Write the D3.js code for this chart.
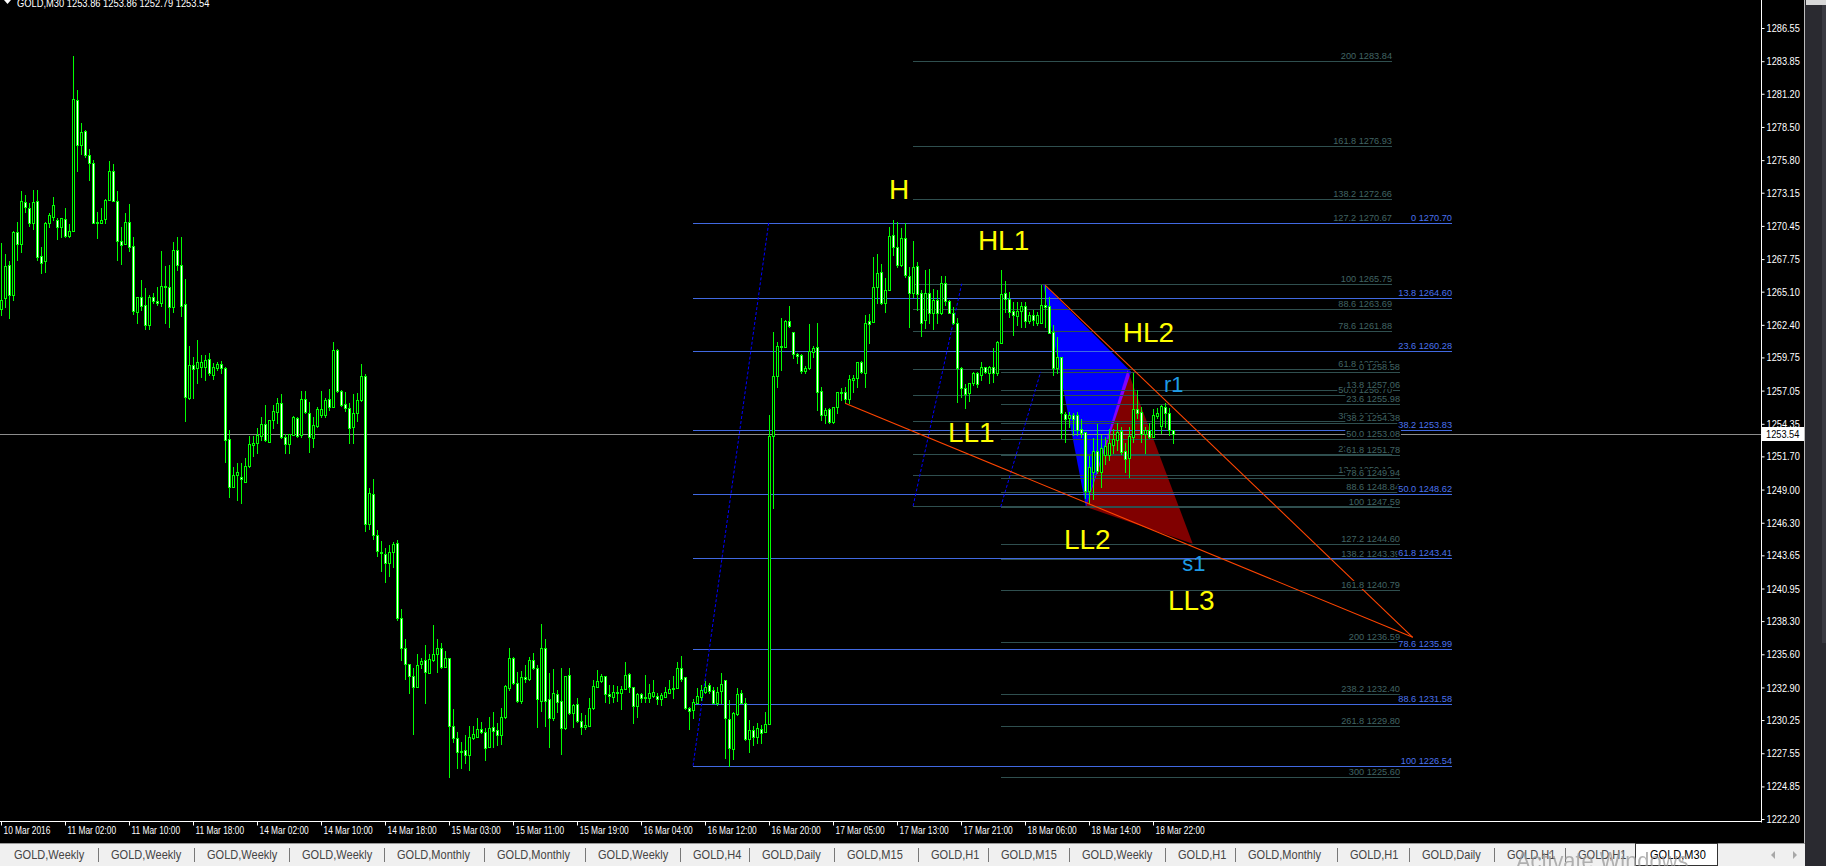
<!DOCTYPE html>
<html><head><meta charset="utf-8">
<script src="https://cdn.jsdelivr.net/npm/d3@7"></script>
<style>
html,body{margin:0;padding:0;background:#000;overflow:hidden;}
svg{display:block;}
</style></head><body>
<svg id="c" width="1826" height="866"></svg>
<script>
// ---------------- DATA ----------------
const barOpen = [
1263.66,1264.56,1267.24,1264.80,1269.93,1268.95,1272.37,1271.88,1270.71,1272.45,
1268.00,1267.57,1270.66,1271.20,1270.93,1270.39,1270.99,1269.66,1270.06,1280.67,
1277.06,1278.17,1276.25,1275.54,1270.71,1270.71,1270.99,1272.53,1274.89,1272.45,
1269.19,1268.98,1270.74,1268.79,1263.47,1264.64,1263.99,1262.39,1264.69,1264.31,
1264.18,1265.59,1265.51,1263.88,1268.46,1267.24,1264.07,1256.48,1259.13,1258.86,
1259.00,1259.00,1259.60,1258.35,1258.92,1259.21,1258.86,1253.08,1249.23,1250.16,
1249.99,1249.64,1250.92,1252.65,1252.76,1253.39,1254.31,1252.90,1254.66,1255.34,
1256.02,1253.25,1252.68,1253.44,1254.82,1253.47,1256.34,1255.20,1253.17,1254.20,
1255.07,1255.07,1256.34,1255.74,1260.35,1257.02,1255.96,1255.66,1254.06,1255.26,
1256.29,1258.24,1246.20,1248.61,1245.30,1243.95,1243.73,1243.00,1243.89,1244.63,
1238.52,1236.08,1234.78,1233.86,1232.96,1234.78,1235.14,1234.05,1235.14,1235.60,
1236.08,1234.59,1235.27,1229.79,1228.76,1227.68,1227.81,1227.38,1228.76,1228.90,
1229.49,1229.25,1228.08,1229.66,1229.44,1229.03,1230.47,1232.88,1235.27,1233.24,
1231.80,1233.72,1233.59,1235.14,1234.46,1231.80,1236.08,1231.93,1230.39,1232.37,
1231.80,1229.58,1233.89,1230.80,1231.53,1230.17,1229.66,1229.79,1231.20,1232.96,
1233.45,1233.83,1232.37,1232.15,1232.48,1232.48,1232.75,1233.97,1232.91,1231.42,
1232.34,1232.07,1232.07,1232.23,1232.23,1231.93,1232.15,1232.48,1232.77,1232.83,
1234.46,1233.72,1231.26,1231.07,1231.66,1232.15,1232.56,1233.10,1232.69,1231.66,
1232.61,1233.51,1230.34,1227.89,1230.71,1232.42,1231.61,1228.74,1229.44,1228.90,
1229.49,1229.31,1229.90,1253.36,1258.24,1260.68,1260.62,1262.71,1261.84,1260.03,
1259.92,1258.67,1258.86,1260.22,1260.57,1257.05,1255.07,1255.53,1254.52,1255.69,
1256.91,1256.91,1256.37,1257.91,1258.05,1259.35,1258.51,1262.71,1262.66,1265.51,
1266.67,1264.20,1265.23,1269.71,1268.76,1267.27,1269.44,1266.37,1264.96,1267.19,
1265.02,1262.79,1265.02,1263.39,1264.42,1263.39,1265.78,1264.37,1263.39,1262.58,
1258.86,1257.29,1256.88,1257.64,1258.51,1258.32,1258.94,1258.51,1259.00,1258.45,
1260.95,1264.96,1264.50,1263.53,1263.15,1263.53,1263.93,1262.71,1263.20,1262.58,
1262.58,1264.01,1263.96,1261.85,1258.92,1259.81,1255.15,1254.80,1255.07,1255.07,
1253.90,1253.66,1248.91,1250.46,1252.14,1250.46,1251.81,1251.81,1252.63,1253.04,
1253.77,1252.14,1251.54,1253.31,1255.53,1255.28,1253.52,1253.85,1253.31,1254.99,
1254.17,1255.74,1255.26,1253.86];
const barHigh = [
1269.03,1268.14,1267.62,1270.04,1270.80,1273.29,1272.96,1272.29,1273.37,1273.37,
1268.76,1270.80,1271.53,1272.77,1271.12,1271.07,1271.91,1270.60,1284.27,1281.51,
1278.79,1278.28,1276.71,1275.81,1271.61,1271.88,1272.61,1275.73,1275.49,1273.29,
1270.39,1271.47,1272.21,1269.57,1264.64,1266.05,1265.37,1264.83,1265.02,1265.51,
1268.41,1267.19,1267.24,1269.14,1269.52,1269.52,1266.13,1260.68,1259.81,1261.17,
1259.95,1259.95,1260.14,1259.32,1259.41,1259.49,1258.94,1253.85,1250.81,1251.13,
1251.13,1251.60,1253.36,1253.36,1253.98,1254.88,1255.88,1254.66,1255.88,1256.42,
1256.77,1253.49,1253.49,1255.01,1254.93,1257.05,1257.05,1256.15,1254.93,1255.74,
1257.02,1256.42,1257.18,1261.00,1260.41,1257.10,1256.91,1256.02,1256.77,1256.83,
1259.21,1258.40,1249.10,1249.90,1245.70,1244.84,1244.22,1244.49,1244.76,1244.90,
1239.28,1236.84,1234.78,1234.51,1235.60,1235.32,1236.36,1235.60,1237.98,1236.84,
1236.55,1235.87,1235.32,1231.15,1229.31,1228.49,1229.03,1229.77,1229.77,1230.39,
1230.12,1229.58,1230.47,1230.93,1230.04,1231.26,1233.10,1236.08,1235.41,1234.19,
1234.27,1234.73,1235.41,1235.68,1234.73,1238.06,1236.82,1234.05,1234.37,1232.69,
1234.46,1233.83,1234.46,1231.55,1232.02,1230.85,1230.66,1232.02,1233.51,1234.32,
1234.00,1233.83,1233.10,1233.10,1233.02,1233.02,1235.00,1234.05,1232.96,1232.48,
1232.48,1233.91,1233.18,1233.51,1232.42,1232.48,1232.91,1233.51,1233.83,1235.00,
1235.46,1233.78,1231.34,1231.93,1232.83,1233.10,1233.43,1233.24,1232.96,1232.96,
1234.05,1233.51,1231.88,1230.93,1232.83,1232.69,1232.02,1230.25,1229.77,1229.98,
1229.85,1230.93,1255.07,1261.84,1261.03,1262.93,1262.79,1263.93,1261.84,1260.14,
1260.00,1259.08,1262.47,1260.68,1262.52,1257.37,1255.61,1255.61,1255.74,1256.96,
1257.23,1257.37,1258.32,1258.32,1259.40,1259.48,1263.20,1263.28,1267.95,1268.16,
1267.35,1266.18,1270.33,1270.93,1270.79,1270.25,1270.66,1267.08,1269.22,1267.54,
1265.23,1266.86,1266.92,1265.29,1265.23,1266.37,1266.37,1264.42,1263.82,1262.93,
1259.00,1257.56,1257.70,1258.59,1258.59,1259.40,1259.00,1259.05,1260.49,1261.09,
1266.86,1266.00,1265.10,1264.29,1264.29,1264.29,1264.29,1263.47,1263.61,1263.47,
1265.64,1265.64,1264.69,1262.39,1261.39,1259.81,1255.34,1255.34,1255.20,1255.34,
1254.72,1253.71,1251.73,1253.17,1254.34,1253.44,1253.31,1253.90,1253.90,1254.39,
1254.12,1252.76,1254.12,1258.51,1257.10,1255.74,1254.12,1254.39,1255.53,1255.61,
1255.88,1256.01,1255.61,1253.86];
const barLow = [
1263.20,1263.88,1262.93,1264.42,1267.68,1268.35,1271.61,1270.47,1270.20,1267.68,
1266.59,1266.73,1270.39,1270.93,1269.36,1269.52,1269.57,1269.57,1270.06,1274.94,
1276.30,1276.08,1274.18,1270.71,1269.49,1270.71,1270.66,1272.53,1272.50,1267.68,
1267.32,1268.98,1268.44,1263.26,1262.58,1263.61,1262.09,1262.09,1264.20,1263.99,
1263.96,1262.58,1262.25,1263.47,1266.86,1263.12,1254.61,1256.34,1256.42,1257.64,
1258.13,1257.91,1258.32,1258.02,1258.73,1258.46,1251.27,1248.42,1249.23,1248.15,
1247.93,1249.64,1250.86,1251.76,1251.95,1253.03,1252.98,1252.90,1254.04,1254.39,
1253.22,1252.00,1251.95,1253.44,1253.25,1253.25,1255.20,1252.08,1252.49,1254.12,
1254.93,1254.93,1255.47,1255.74,1256.96,1255.80,1255.42,1252.76,1252.76,1254.61,
1256.23,1245.60,1245.80,1245.00,1243.60,1242.37,1241.51,1242.00,1242.73,1238.39,
1235.14,1233.59,1232.48,1229.11,1232.96,1234.46,1231.66,1234.05,1235.05,1234.13,
1234.46,1234.59,1225.59,1228.49,1226.32,1226.32,1226.73,1226.19,1228.68,1228.90,
1229.17,1227.00,1228.08,1228.08,1228.22,1228.30,1230.39,1232.69,1233.18,1231.75,
1231.66,1233.37,1233.51,1234.37,1229.71,1231.01,1229.77,1228.08,1230.25,1230.93,
1227.49,1229.49,1230.74,1229.71,1230.12,1229.11,1229.49,1229.79,1231.12,1232.91,
1233.37,1231.75,1231.66,1231.75,1231.83,1231.15,1232.75,1232.56,1229.98,1230.53,
1231.75,1231.75,1231.75,1232.15,1231.55,1231.47,1232.15,1232.42,1232.02,1232.83,
1233.45,1231.12,1229.49,1230.39,1231.61,1231.88,1232.48,1232.42,1231.61,1231.47,
1231.61,1227.19,1226.54,1227.05,1230.66,1231.61,1228.63,1227.68,1228.22,1228.41,
1228.36,1229.31,1229.90,1247.47,1257.37,1258.73,1260.62,1262.25,1259.68,1259.32,
1258.51,1258.45,1258.78,1259.81,1255.47,1254.66,1254.39,1254.39,1254.39,1255.20,
1256.29,1256.01,1256.01,1256.96,1257.37,1258.45,1257.37,1260.90,1262.66,1264.15,
1264.10,1263.47,1265.23,1268.08,1267.13,1267.19,1266.32,1262.20,1264.69,1263.61,
1261.52,1262.12,1262.58,1262.03,1262.58,1263.28,1264.01,1263.34,1262.47,1256.15,
1256.50,1255.61,1256.23,1257.51,1257.37,1257.91,1258.51,1257.70,1257.78,1258.32,
1260.95,1263.47,1263.07,1261.57,1262.39,1262.25,1262.25,1262.52,1262.39,1262.39,
1262.52,1262.25,1261.71,1258.32,1258.45,1253.17,1252.90,1254.12,1253.44,1253.44,
1253.31,1248.29,1247.88,1248.21,1250.32,1249.24,1251.08,1251.41,1251.95,1252.22,
1251.90,1250.46,1250.05,1252.90,1254.80,1252.90,1252.01,1253.17,1253.31,1254.80,
1253.58,1254.12,1253.44,1252.79];
const barClose = [
1264.42,1267.19,1264.80,1269.95,1268.95,1272.45,1271.96,1270.71,1272.37,1267.95,
1267.46,1270.66,1271.31,1272.12,1270.39,1271.07,1269.66,1270.01,1280.75,1277.06,
1278.06,1276.25,1275.54,1270.71,1270.80,1270.93,1272.53,1274.89,1272.50,1269.19,
1268.92,1270.74,1268.71,1263.55,1264.64,1263.96,1262.39,1264.67,1264.31,1264.18,
1265.59,1265.51,1263.88,1268.46,1267.24,1263.96,1256.56,1259.11,1258.84,1259.38,
1259.35,1259.51,1258.51,1258.94,1259.21,1258.86,1253.03,1249.23,1250.18,1250.43,
1249.83,1250.92,1252.68,1252.76,1253.41,1254.31,1253.03,1254.66,1255.39,1256.02,
1253.30,1252.68,1253.49,1254.88,1253.36,1256.34,1255.34,1253.25,1254.23,1255.53,
1255.58,1256.29,1255.74,1260.35,1257.05,1255.88,1255.66,1253.98,1255.20,1256.29,
1258.24,1246.20,1248.69,1245.30,1244.00,1243.81,1243.00,1243.89,1244.57,1238.52,
1236.08,1234.78,1233.86,1232.96,1234.73,1235.05,1234.13,1235.19,1235.60,1236.14,
1234.59,1235.27,1229.79,1228.76,1227.68,1227.76,1227.38,1228.84,1229.09,1229.49,
1229.25,1228.00,1229.58,1229.39,1229.03,1230.47,1233.02,1235.27,1233.24,1231.80,
1233.72,1233.59,1235.14,1234.46,1231.96,1236.08,1231.80,1230.39,1232.42,1231.75,
1229.58,1233.83,1230.80,1231.47,1230.17,1229.71,1229.85,1231.20,1233.02,1233.43,
1233.83,1232.34,1232.23,1232.56,1232.56,1232.77,1233.91,1232.91,1231.42,1232.37,
1232.07,1232.15,1232.42,1232.50,1231.93,1232.29,1232.50,1232.77,1232.83,1234.46,
1233.59,1231.26,1230.99,1231.75,1232.21,1232.69,1232.96,1232.61,1231.66,1232.56,
1233.16,1230.39,1227.95,1230.80,1232.37,1231.66,1228.68,1229.44,1228.84,1229.58,
1229.22,1229.90,1253.36,1258.24,1260.68,1260.62,1262.71,1262.33,1260.00,1259.87,
1258.64,1258.86,1260.27,1260.49,1256.96,1255.07,1255.47,1254.52,1255.69,1256.91,
1256.83,1256.37,1257.97,1258.05,1259.35,1258.59,1262.52,1262.44,1265.51,1266.59,
1264.20,1265.23,1269.63,1268.76,1267.27,1269.44,1266.45,1264.96,1267.13,1264.91,
1262.58,1264.96,1263.39,1264.42,1263.39,1265.78,1264.37,1263.39,1262.52,1258.86,
1257.23,1256.77,1257.64,1258.45,1257.56,1258.94,1258.59,1259.00,1258.45,1261.03,
1264.91,1264.50,1263.47,1263.20,1263.53,1263.93,1262.71,1263.20,1262.79,1263.20,
1264.01,1263.88,1261.76,1258.92,1259.81,1255.20,1254.72,1255.07,1254.72,1253.85,
1253.63,1248.91,1250.86,1252.14,1250.51,1252.36,1252.55,1252.76,1253.09,1253.71,
1252.09,1251.46,1253.36,1255.53,1255.26,1253.52,1253.85,1253.31,1255.07,1255.26,
1255.80,1255.26,1253.85,1253.54];

const timeLabels = ["10 Mar 2016","11 Mar 02:00","11 Mar 10:00","11 Mar 18:00","14 Mar 02:00","14 Mar 10:00",
  "14 Mar 18:00","15 Mar 03:00","15 Mar 11:00","15 Mar 19:00","16 Mar 04:00","16 Mar 12:00","16 Mar 20:00",
  "17 Mar 05:00","17 Mar 13:00","17 Mar 21:00","18 Mar 06:00","18 Mar 14:00","18 Mar 22:00"];
const timeTickBars = [0,16,32,48,64,80,96,112,128,144,160,176,192,208,224,240,256,272,288];
const priceTicks = [1286.55,1283.85,1281.20,1278.50,1275.80,1273.15,1270.45,1267.75,1265.10,1262.40,1259.75,
  1257.05,1254.35,1251.70,1249.00,1246.30,1243.65,1240.95,1238.30,1235.60,1232.90,1230.25,1227.55,1224.85,1222.20];
const bidPrice = 1253.54;
const titleText = "GOLD,M30  1253.86 1253.86 1252.79 1253.54";

// Fibonacci object A (blue)
const fibALevels = ["0","13.8","23.6","38.2","50.0","61.8","78.6","88.6","100"];
const fibAPrices = [1270.70,1264.60,1260.28,1253.83,1248.62,1243.41,1235.99,1231.58,1226.54];
const fibASpan = [172.9, 362.55];
const fibABase = [[172.9,1226.54],[191.8,1270.70]];
// Fibonacci object B (dark slate gray)
const fibBLevels = ["200","161.8","138.2","127.2","100","88.6","78.6","61.8","50.0","38.2","23.6","13.8","0"];
const fibBPrices = [1283.84,1276.93,1272.66,1270.67,1265.75,1263.69,1261.88,1258.84,1256.70,1254.57,1251.93,1250.16,1247.66];
const fibBSpan = [227.9, 347.55];
const fibBBase = [[227.9,1247.66],[240.05,1265.75]];
// Fibonacci object C (dark slate gray)
const fibCLevels = ["0","13.8","23.6","38.2","50.0","61.8","78.6","88.6","100","127.2","138.2","161.8","200","238.2","261.8","300"];
const fibCPrices = [1258.58,1257.06,1255.98,1254.38,1253.08,1251.78,1249.94,1248.84,1247.59,1244.60,1243.39,1240.79,1236.59,1232.40,1229.80,1225.60];
const fibCSpan = [249.8, 349.5];
const fibCBase = [[249.8,1247.59],[259.8,1258.58]];

// Triangles (bar index, price)
const blueTriangle = [[260.4,1265.75],[282.4,1258.58],[271.1,1247.59]];
const redTriangle  = [[281.5,1258.70],[271.1,1247.59],[297.8,1244.60]];
// Trend lines
const trendLines = [
  [[210.9,1256.02],[352.8,1236.98]],
  [[260.9,1265.64],[352.8,1236.98]]
];
// Text labels (bar index, price, text)
const waveLabels = [
  {t:"H",   b:221.9, p:1272.64, c:"#ffff00", s:28},
  {t:"HL1", b:244.1, p:1268.45, c:"#ffff00", s:28},
  {t:"HL2", b:280.3, p:1261.03, c:"#ffff00", s:28},
  {t:"LL1", b:236.6, p:1252.90, c:"#ffff00", s:28},
  {t:"LL2", b:265.6, p:1244.16, c:"#ffff00", s:28},
  {t:"LL3", b:291.6, p:1239.20, c:"#ffff00", s:28},
  {t:"r1",  b:290.6, p:1256.96, c:"#1e9be6", s:22},
  {t:"s1",  b:295.2, p:1242.37, c:"#1e9be6", s:22}
];
// Bottom tabs
const tabNames = ["GOLD,Weekly","GOLD,Weekly","GOLD,Weekly","GOLD,Weekly","GOLD,Monthly","GOLD,Monthly","GOLD,Weekly",
  "GOLD,H4","GOLD,Daily","GOLD,M15","GOLD,H1","GOLD,M15","GOLD,Weekly","GOLD,H1","GOLD,Monthly","GOLD,H1",
  "GOLD,Daily","GOLD,H1","GOLD,H1","GOLD,M30"];
const tabStarts = [14,111,207,302,397,497,598,693,762,847,931,1001,1082,1178,1248,1350,1422,1507,1578,1650];

// ---------------- DRAWING ----------------
const FONT = '"Liberation Sans", Arial, sans-serif';
const W = 1826, H = 866, PR = 1761, PB = 822;
const svg = d3.select("#c");
const x = d3.scaleLinear().domain([0, 440]).range([1.5, 1761.5]);
const y = d3.scaleLinear().domain([1286.55, 1222.20]).range([28, 819]);
const cy = v => Math.round(y(v)) + 0.5;

function txt(parent, px, py, s, o) {
  const g = parent.append("g").attr("transform", `translate(${px},${py}) scale(${o.sx || 1},1)`);
  let r = null;
  if (o.bg) r = g.append("rect").attr("fill", o.bg);
  const t = g.append("text").text(s).attr("font-family", o.family || FONT).attr("font-size", o.size)
    .attr("fill", o.fill).attr("text-anchor", o.anchor || "start");
  if (r) { const b = t.node().getBBox(); r.attr("x", b.x - 1).attr("y", b.y + 1).attr("width", b.width + 2).attr("height", b.height - 2); }
  return g;
}

svg.append("rect").attr("width", W).attr("height", H).attr("fill", "#000");
svg.append("clipPath").attr("id", "plotclip").append("rect").attr("x", 0).attr("y", 0).attr("width", PR).attr("height", PB);
const plot = svg.append("g").attr("clip-path", "url(#plotclip)");

// triangles (background)
const triG = plot.append("g").style("isolation", "isolate");
const poly = pts => pts.map(p => [x(p[0]), y(p[1])].join(",")).join(" ");
triG.append("polygon").attr("points", poly(blueTriangle)).attr("fill", "#0000ff");
triG.append("polygon").attr("points", poly(redTriangle)).attr("fill", "#800000").style("mix-blend-mode", "lighten");

// fib lines
function fibLines(prices, span, color) {
  const g = plot.append("g").attr("shape-rendering", "crispEdges");
  g.selectAll("line").data(prices).join("line")
    .attr("x1", Math.round(x(span[0]))).attr("x2", Math.round(x(span[1])))
    .attr("y1", d => cy(d)).attr("y2", d => cy(d)).attr("stroke", color).attr("stroke-width", 1);
}
function fibBase(base) {
  plot.append("line").attr("x1", x(base[0][0])).attr("y1", y(base[0][1])).attr("x2", x(base[1][0])).attr("y2", y(base[1][1]))
    .attr("stroke", "#0000ff").attr("stroke-width", 1).attr("stroke-dasharray", "3,2");
}
fibLines(fibBPrices, fibBSpan, "#2f4f4f");
fibLines(fibCPrices, fibCSpan, "#2f4f4f");
fibLines(fibAPrices, fibASpan, "#4169e1");
fibBase(fibABase); fibBase(fibBBase); fibBase(fibCBase);

// bid line
plot.append("line").attr("x1", 0).attr("x2", PR).attr("y1", cy(bidPrice)).attr("y2", cy(bidPrice))
  .attr("stroke", "#8c8c8c").attr("shape-rendering", "crispEdges");

// candles
const cg = plot.append("g").attr("shape-rendering", "crispEdges");
barOpen.forEach((o, i) => {
  const c = barClose[i];
  const hi = Math.max(barHigh[i], o, c), lo = Math.min(barLow[i], o, c);
  const X = Math.floor(x(i));
  const yh = Math.round(y(hi)), yl = Math.round(y(lo));
  cg.append("rect").attr("x", X).attr("y", yh).attr("width", 1).attr("height", yl - yh + 1).attr("fill", "#00ff00");
  const bt = Math.round(y(Math.max(o, c))), bb = Math.round(y(Math.min(o, c)));
  cg.append("rect").attr("x", X - 1).attr("y", bt).attr("width", 3).attr("height", bb - bt + 1).attr("fill", "#00ff00");
  if (bb - bt >= 2) {
    cg.append("rect").attr("x", X).attr("y", bt + 1).attr("width", 1).attr("height", bb - bt - 1)
      .attr("fill", c >= o ? "#000000" : "#ffffff");
  }
});

// trend lines
trendLines.forEach(l => {
  plot.append("line").attr("x1", x(l[0][0])).attr("y1", y(l[0][1])).attr("x2", x(l[1][0])).attr("y2", y(l[1][1]))
    .attr("stroke", "#ff4500").attr("stroke-width", 1.1);
});

// fib labels
function fibLabels(levels, prices, span, color) {
  levels.forEach((lv, i) => {
    txt(plot, Math.round(x(span[1])), cy(prices[i]) - 2.5, lv + " " + prices[i].toFixed(2),
      {size: 9.5, fill: color, anchor: "end", bg: "#000", sx: 0.97});
  });
}
fibLabels(fibBLevels, fibBPrices, fibBSpan, "#416464");
fibLabels(fibCLevels, fibCPrices, fibCSpan, "#416464");
fibLabels(fibALevels, fibAPrices, fibASpan, "#4a72ee");

// wave labels
waveLabels.forEach(d => {
  txt(plot, x(d.b), y(d.p), d.t, {size: d.s, fill: d.c, sx: 1});
});

// borders
svg.append("line").attr("x1", PR + 0.5).attr("x2", PR + 0.5).attr("y1", 0).attr("y2", PB + 0.5).attr("stroke", "#fff");
svg.append("line").attr("x1", 0).attr("x2", PR + 0.5).attr("y1", PB - 0.5).attr("y2", PB - 0.5).attr("stroke", "#fff");

// price axis
const yAxis = d3.axisRight(y).tickValues(priceTicks).tickFormat(d3.format(".2f")).tickSize(3).tickPadding(3);
const ya = svg.append("g").attr("transform", `translate(${PR + 0.5},0)`).call(yAxis);
ya.select(".domain").remove();
ya.selectAll(".tick line").attr("stroke", "#fff");
ya.selectAll(".tick text").attr("fill", "#fff").attr("font-family", FONT).attr("font-size", 11)
  .attr("transform", "scale(0.84,1)");

// bid price box
svg.append("rect").attr("x", PR + 1).attr("y", Math.round(y(bidPrice)) - 7).attr("width", 43).attr("height", 14).attr("fill", "#fff");
txt(svg, PR + 5, Math.round(y(bidPrice)) + 4, bidPrice.toFixed(2), {size: 11, fill: "#000", sx: 0.84});

// time axis
const xAxis = d3.axisBottom(x).tickValues(timeTickBars).tickFormat((d, i) => timeLabels[i]).tickSize(4).tickPadding(0);
const xa = svg.append("g").attr("transform", `translate(0,${PB - 0.5})`).call(xAxis);
xa.select(".domain").remove();
xa.selectAll(".tick line").attr("stroke", "#fff").attr("transform", "translate(-0.5,0)");
xa.selectAll(".tick text").attr("fill", "#fff").attr("font-family", FONT).attr("font-size", 11)
  .attr("text-anchor", "start").attr("dy", null).attr("y", 12.5).attr("x", 2)
  .attr("transform", "scale(0.76,1)");

// title
svg.append("path").attr("d", "M4,0 L11,0 L7.5,4 Z").attr("fill", "#fff");
txt(svg, 17, 7, titleText, {size: 11, fill: "#ffffff", sx: 0.85});

// right chrome
svg.append("rect").attr("x", 1805).attr("y", 0).attr("width", 21).attr("height", H).attr("fill", "#2a2a30");
svg.append("rect").attr("x", 1822).attr("y", 5).attr("width", 4).attr("height", 638).attr("fill", "#3a3a41");
svg.append("rect").attr("x", 1806).attr("y", 0).attr("width", 20).attr("height", 5).attr("fill", "#d8d8d8");
svg.append("line").attr("x1", 1804.5).attr("x2", 1804.5).attr("y1", 0).attr("y2", 843).attr("stroke", "#bdbdbd");

// tab bar
svg.append("rect").attr("x", 0).attr("y", 843).attr("width", 1805).attr("height", 23).attr("fill", "#f0f0f0");
svg.append("line").attr("x1", 0).attr("x2", 1805).attr("y1", 843.5).attr("y2", 843.5).attr("stroke", "#9a9a9a");
const tabs = svg.append("g");
tabNames.forEach((n, i) => {
  const active = i === tabNames.length - 1;
  if (active) {
    tabs.append("rect").attr("x", tabStarts[i] - 14.5).attr("y", 843.5).attr("width", 82).attr("height", 22)
      .attr("fill", "#fff").attr("stroke", "#333");
  } else if (i > 0) {
    tabs.append("line").attr("x1", tabStarts[i] - 12.5).attr("x2", tabStarts[i] - 12.5).attr("y1", 848).attr("y2", 862)
      .attr("stroke", "#777");
  }
  txt(tabs, tabStarts[i], 859, n, {size: 12, fill: active ? "#000" : "#444", sx: 0.92});
});
svg.append("path").attr("d", "M1771,855 L1775,851 L1775,859 Z").attr("fill", "#a8a8a8");
svg.append("path").attr("d", "M1797,855 L1793,851 L1793,859 Z").attr("fill", "#a8a8a8");
txt(svg, 1516, 869, "Activate Windows", {size: 23, fill: "#9a9a9a", sx: 0.95}).attr("opacity", 0.75);
</script>
</body></html>
